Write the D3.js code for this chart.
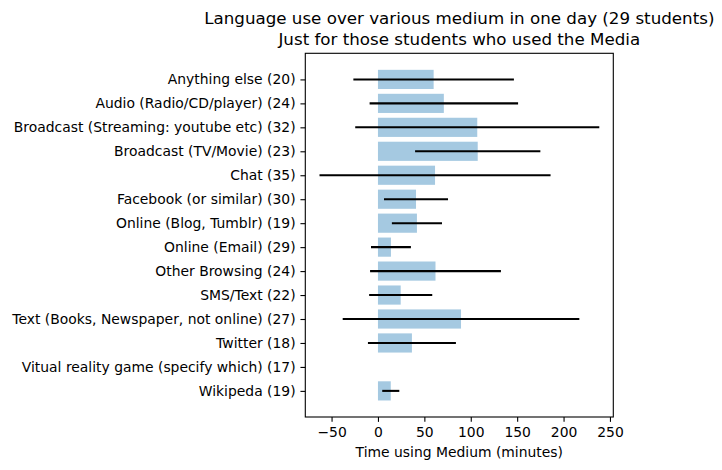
<!DOCTYPE html>
<html><head><meta charset="utf-8">
<script src="https://cdn.jsdelivr.net/npm/d3@7"></script>
<style>
body{margin:0;background:#fff;}
text{font-family:"DejaVu Sans",sans-serif;fill:#000;}
</style></head>
<body><svg id="c" width="722" height="470"></svg>
<script>
const categories = ["Anything else (20)","Audio (Radio/CD/player) (24)","Broadcast (Streaming: youtube etc) (32)","Broadcast (TV/Movie) (23)","Chat (35)","Facebook (or similar) (30)","Online (Blog, Tumblr) (19)","Online (Email) (29)","Other Browsing (24)","SMS/Text (22)","Text (Books, Newspaper, not online) (27)","Twitter (18)","Vitual reality game (specify which) (17)","Wikipeda (19)"];
const means = [60, 71, 107, 107.5, 61.5, 41, 42, 14, 62, 24.5, 89.5, 36.6, null, 13.8];
const stds  = [86.5, 80, 131.5, 67.5, 124.5, 34.5, 27, 21.5, 70.5, 34, 127.5, 47.4, null, 9.2];
const xTicks = [-50, 0, 50, 100, 150, 200, 250];
const titleLines = ["Language use over various medium in one day (29 students)","Just for those students who used the Media"];
const xLabel = "Time using Medium (minutes)";

const svg = d3.select("#c");
const L = 305.3, R = 613.3, T = 53.3, B = 417;
const x = d3.scaleLinear().domain([-78.3, 253.6]).range([L, R]);
const n = categories.length;
const y = d3.scaleLinear().domain([-1.09, n - 1 + 1.09]).range([T, B]);
const bh = 0.8;

const g = svg.append("g");
// bars
g.selectAll("rect.bar").data(categories.map((c,i)=>({c,i,m:means[i]})).filter(d=>d.m!=null))
 .enter().append("rect")
 .attr("x", d=>x(Math.min(0,d.m)))
 .attr("width", d=>Math.abs(x(d.m)-x(0)))
 .attr("y", d=>y(d.i-bh/2))
 .attr("height", d=>y(d.i+bh/2)-y(d.i-bh/2))
 .attr("fill", "#1f77b4").attr("fill-opacity", 0.4);
// error bars
g.selectAll("line.err").data(categories.map((c,i)=>({i,m:means[i],s:stds[i]})).filter(d=>d.m!=null))
 .enter().append("line")
 .attr("x1", d=>x(d.m-d.s)).attr("x2", d=>x(d.m+d.s))
 .attr("y1", d=>y(d.i)).attr("y2", d=>y(d.i))
 .attr("stroke", "#000").attr("stroke-width", 2.08);

// frame
svg.append("rect").attr("x",L).attr("y",T).attr("width",R-L).attr("height",B-T)
 .attr("fill","none").attr("stroke","#000").attr("stroke-width",1.1);

// x axis
const xa = svg.append("g").attr("transform",`translate(0,${B})`)
 .call(d3.axisBottom(x).tickValues(xTicks).tickFormat(d3.format("d")).tickSize(4.86).tickPadding(4.86));
xa.select(".domain").remove();
xa.selectAll("line").attr("stroke","#000").attr("stroke-width",1.1);
xa.selectAll("text").attr("font-size","13.9px").attr("fill","#000").attr("font-family","DejaVu Sans");

// y axis
const ya = svg.append("g").attr("transform",`translate(${L},0)`)
 .call(d3.axisLeft(y).tickValues(d3.range(n)).tickFormat(i=>categories[i]).tickSize(4.86).tickPadding(4.86));
ya.select(".domain").remove();
ya.selectAll("line").attr("stroke","#000").attr("stroke-width",1.1);
ya.selectAll("text").attr("font-size","13.9px").attr("fill","#000").attr("font-family","DejaVu Sans");

// labels
const cx = (L+R)/2;
svg.append("text").attr("x",cx).attr("y",457).attr("text-anchor","middle").attr("font-size","13.9px").text(xLabel);
svg.selectAll("text.title").data(titleLines).enter().append("text")
 .attr("x",cx).attr("y",(d,i)=>24+i*21).attr("text-anchor","middle").attr("font-size","16.7px").text(d=>d);
</script></body></html>
